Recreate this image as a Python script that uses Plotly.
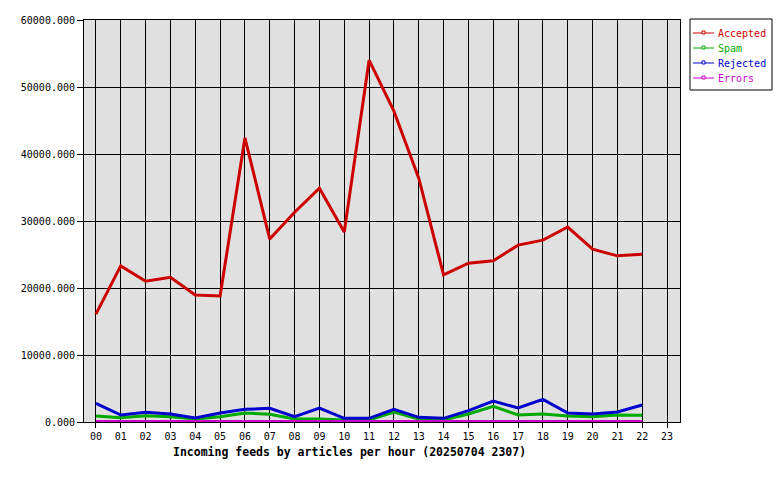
import plotly.graph_objects as go

hours = list(range(24))
hour_labels = [f"{h:02d}" for h in hours]

accepted = [16100, 23300, 21000, 21600, 18950, 18800, 42400, 27300, 31300, 34900,
            28350, 54000, 46400, 36400, 21950, 23700, 24050, 26400, 27150, 29100,
            25800, 24800, 25050]
spam = [900, 650, 950, 800, 450, 800, 1340, 1140, 450, 450, 300, 300,
        1490, 450, 300, 1190, 2340, 1045, 1190, 900, 800, 1045, 1000]
rejected = [2790, 1045, 1440, 1190, 600, 1340, 1890, 2040, 800, 2090, 550, 550,
            1890, 700, 550, 1690, 3130, 2090, 3380, 1340, 1190, 1490, 2540]
errors = [80] * 23

series = [
    ("Accepted", accepted, "#cc0000"),
    ("Spam", spam, "#00aa00"),
    ("Rejected", rejected, "#0000cc"),
    ("Errors", errors, "#cc00cc"),
]

title = "Incoming feeds by articles per hour (20250704 2307)"

mono = "DejaVu Sans Mono"
L, R, T, B = 84, 100, 20, 58
W, H = 780, 480
PW, PH = W - L - R, H - T - B


def px_x(p):
    return (p - L) / PW


def px_y(p):
    return (H - B - p) / PH


fig = go.Figure()
for name, vals, color in series:
    fig.add_trace(go.Scatter(
        x=hours[:len(vals)], y=vals, mode="lines", name=name,
        line=dict(color=color, width=3), showlegend=False,
    ))

# legend box drawn by hand
shapes = [dict(type="rect", xref="paper", yref="paper",
               x0=px_x(690), x1=px_x(772), y0=px_y(90), y1=px_y(19),
               line=dict(color="black", width=1), fillcolor="white")]
annotations = []
for i, (name, vals, color) in enumerate(series):
    yy = 33 + 15 * i
    shapes.append(dict(type="line", xref="paper", yref="paper",
                       x0=px_x(693), x1=px_x(714), y0=px_y(yy), y1=px_y(yy),
                       line=dict(color=color, width=1)))
    shapes.append(dict(type="rect", xref="paper", yref="paper",
                       x0=px_x(702), x1=px_x(705), y0=px_y(yy + 1), y1=px_y(yy - 2),
                       line=dict(color=color, width=1), fillcolor="white"))
    annotations.append(dict(xref="paper", yref="paper", x=px_x(716), y=px_y(yy),
                            xanchor="left", yanchor="middle", showarrow=False,
                            text=name, font=dict(family=mono, size=10, color=color)))

annotations.append(dict(xref="paper", yref="paper", x=px_x(349), y=px_y(452),
                        xanchor="center", yanchor="middle", showarrow=False,
                        text=f"<b>{title}</b>",
                        font=dict(family=mono, size=11.5, color="black")))

fig.update_layout(
    width=W, height=H,
    margin=dict(l=L, r=R, t=T, b=B, autoexpand=False),
    paper_bgcolor="white", plot_bgcolor="#e0e0e0",
    font=dict(family=mono, size=10, color="black"),
    showlegend=False,
    shapes=shapes, annotations=annotations,
    xaxis=dict(
        range=[-0.48, 23.52], tickmode="array", tickvals=hours, ticktext=hour_labels,
        showgrid=True, gridcolor="black", gridwidth=1,
        showline=True, linecolor="black", linewidth=1, mirror=True,
        ticks="outside", ticklen=5, tickcolor="black", zeroline=False,
    ),
    yaxis=dict(
        range=[0, 60000], tickmode="array", tickvals=list(range(0, 60001, 10000)),
        ticktext=[f"{v}.000" for v in range(0, 60001, 10000)],
        showgrid=True, gridcolor="black", gridwidth=1,
        showline=True, linecolor="black", linewidth=1, mirror=True,
        ticks="outside", ticklen=6, tickcolor="black", zeroline=False,
    ),
)

fig.write_html("out.html", config={"displayModeBar": False},
               post_script="document.body.style.margin='0';")
